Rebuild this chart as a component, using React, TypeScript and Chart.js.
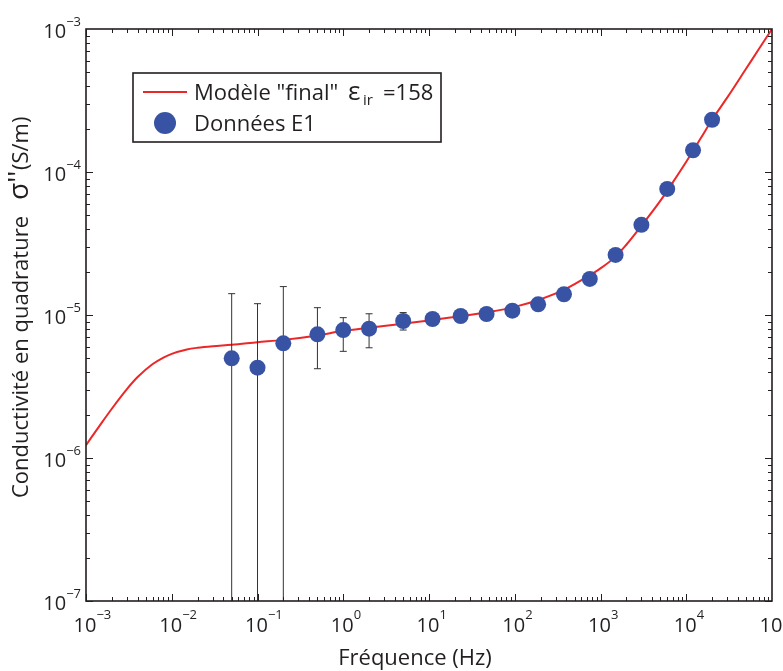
import React, { useEffect, useRef } from "react";
import { Chart, registerables } from "chart.js";

Chart.register(...registerables);

// ---- Data ----
const modelFreq = [
  0.001, 0.0015, 0.002, 0.003, 0.004, 0.006, 0.008, 0.01, 0.015, 0.02, 0.03, 0.05,
  0.1, 0.2, 0.5, 1, 2, 5, 10, 20, 50, 100, 200, 400, 700, 1000, 1500, 2000, 3000,
  5000, 7000, 10000, 15000, 20000, 30000, 50000, 70000, 100000,
];
const modelSigma = [
  1.23e-6, 1.74e-6, 2.21e-6, 3.03e-6, 3.68e-6, 4.54e-6, 5.04e-6, 5.35e-6, 5.74e-6, 5.9e-6,
  6.05e-6, 6.19e-6, 6.45e-6, 6.7e-6, 7.2e-6, 7.75e-6, 8.15e-6, 8.7e-6, 9.15e-6, 9.7e-6,
  1.05e-5, 1.14e-5, 1.29e-5, 1.53e-5, 1.85e-5, 2.12e-5, 2.56e-5, 3.1e-5, 4.2e-5,
  6.3e-5, 8.5e-5, 1.18e-4, 1.75e-4, 2.32e-4, 3.31e-4, 5.29e-4, 7.21e-4, 1.0e-3,
];
const dataFreq = [
  0.05, 0.1, 0.2, 0.5, 1, 2, 5, 11, 23.4, 46.9, 93.8, 187.5, 375, 750, 1500, 3000,
  6000, 12000, 20000,
];
const dataSigma = [
  4.98e-6, 4.28e-6, 6.34e-6, 7.33e-6, 7.85e-6, 8.02e-6, 9.08e-6, 9.38e-6, 9.84e-6,
  1.016e-5, 1.072e-5, 1.188e-5, 1.396e-5, 1.787e-5, 2.63e-5, 4.27e-5, 7.62e-5,
  1.42e-4, 2.32e-4,
];
// null in errLow = lower bound below the axis; null in both = no bar
const errHigh: (number | null)[] = [
  1.41e-5, 1.2e-5, 1.58e-5, 1.125e-5, 9.58e-6, 1.02e-5, 1.04e-5, null, null, null,
  null, null, null, null, null, null, null, null, null,
];
const errLow: (number | null)[] = [
  null, null, null, 4.21e-6, 5.57e-6, 5.9e-6, 7.85e-6, null, null, null, null, null,
  null, null, null, null, null, null, null,
];
const xTickExps = [-3, -2, -1, 0, 1, 2, 3, 4, 5];
const yTickExps = [-7, -6, -5, -4, -3];
const legendModel = 'Modèle "final"';
const legendEps = "ε";
const legendEpsSub = "ir";
const legendEpsVal = "=158";
const legendData = "Données E1";
const xTitle = "Fréquence (Hz)";
const yTitleA = "Conductivité en quadrature";
const yTitleSym = "σ''";
const yTitleUnit = "(S/m)";

const RED = "#ec2727";
const BLUE = "#3953a4";
const INK = "#231f20";
const FONT = "'Open Sans', 'DejaVu Sans', sans-serif";

function expStr(e: number) {
  return e < 0 ? "\u2212" + Math.abs(e) : String(e);
}

const decorPlugin = {
  id: "decor",
  beforeDatasetDraw(chart: any, args: any) {
    if (args.index !== 1) return;
    const { ctx, chartArea, scales } = chart;
    ctx.save();
    ctx.beginPath();
    ctx.rect(chartArea.left, chartArea.top, chartArea.width, chartArea.height);
    ctx.clip();
    ctx.strokeStyle = "#333";
    ctx.lineWidth = 1;
    const c = 3.5;
    dataFreq.forEach((f, i) => {
      const hi = errHigh[i];
      const lo = errLow[i];
      if (hi == null && lo == null) return;
      const x = scales.x.getPixelForValue(f);
      const yTop = hi != null ? scales.y.getPixelForValue(hi) : scales.y.getPixelForValue(dataSigma[i]);
      const yBot = lo != null ? scales.y.getPixelForValue(lo) : chartArea.bottom + 2;
      ctx.beginPath();
      ctx.moveTo(x, yTop);
      ctx.lineTo(x, yBot);
      if (hi != null) {
        ctx.moveTo(x - c, yTop);
        ctx.lineTo(x + c, yTop);
      }
      if (lo != null) {
        ctx.moveTo(x - c, yBot);
        ctx.lineTo(x + c, yBot);
      }
      ctx.stroke();
    });
    ctx.restore();
  },
  afterDraw(chart: any) {
    const { ctx, chartArea, scales } = chart;
    const { left, right, top, bottom } = chartArea;
    const xs = scales.x;
    const ys = scales.y;
    ctx.save();

    // inward tick marks on all four sides
    ctx.strokeStyle = INK;
    ctx.lineWidth = 1;
    ctx.beginPath();
    for (let e = -3; e < 5; e++) {
      for (let m = 1; m <= 9; m++) {
        const v = m * Math.pow(10, e);
        const px = Math.round(xs.getPixelForValue(v)) + 0.5;
        const len = m === 1 ? 7 : 4;
        ctx.moveTo(px, bottom);
        ctx.lineTo(px, bottom - len);
        ctx.moveTo(px, top);
        ctx.lineTo(px, top + len);
      }
    }
    for (let e = -7; e < -3; e++) {
      for (let m = 1; m <= 9; m++) {
        const v = m * Math.pow(10, e);
        const py = Math.round(ys.getPixelForValue(v)) + 0.5;
        const len = m === 1 ? 7 : 4;
        ctx.moveTo(left, py);
        ctx.lineTo(left + len, py);
        ctx.moveTo(right, py);
        ctx.lineTo(right - len, py);
      }
    }
    ctx.stroke();

    // box
    ctx.lineWidth = 1.6;
    ctx.strokeRect(left, top, right - left, bottom - top);

    // tick labels
    ctx.fillStyle = INK;
    ctx.textBaseline = "alphabetic";
    xTickExps.forEach((e) => {
      const px = xs.getPixelForValue(Math.pow(10, e));
      ctx.font = `20px ${FONT}`;
      const w = ctx.measureText("10").width;
      ctx.textAlign = "left";
      ctx.fillText("10", px - w / 2 - 1, 632);
      ctx.font = `13px ${FONT}`;
      ctx.fillText(expStr(e), px + w / 2 - 1, 619);
    });
    yTickExps.forEach((e) => {
      const py = ys.getPixelForValue(Math.pow(10, e));
      ctx.font = `13px ${FONT}`;
      const s = expStr(e);
      const we = ctx.measureText(s).width;
      ctx.textAlign = "left";
      ctx.fillText(s, 81 - we, py - 3);
      ctx.font = `20px ${FONT}`;
      ctx.textAlign = "right";
      ctx.fillText("10", 81 - we, py + 9);
    });

    // axis titles
    ctx.font = `22px ${FONT}`;
    ctx.textAlign = "center";
    ctx.fillText(xTitle, 415, 665);
    ctx.save();
    ctx.translate(28, 0);
    ctx.rotate(-Math.PI / 2);
    ctx.textAlign = "left";
    ctx.font = `22px ${FONT}`;
    ctx.fillText(yTitleA, -498, 0);
    ctx.fillText(yTitleUnit, -170, 0);
    ctx.font = `28px ${FONT}`;
    ctx.fillText(yTitleSym, -200, 0);
    ctx.restore();

    // legend
    ctx.fillStyle = "#ffffff";
    ctx.fillRect(133, 73, 308, 69);
    ctx.strokeStyle = INK;
    ctx.lineWidth = 1.6;
    ctx.strokeRect(133, 73, 308, 69);
    ctx.strokeStyle = RED;
    ctx.lineWidth = 2;
    ctx.beginPath();
    ctx.moveTo(143, 92);
    ctx.lineTo(187, 92);
    ctx.stroke();
    ctx.fillStyle = BLUE;
    ctx.beginPath();
    ctx.arc(165, 123, 11, 0, Math.PI * 2);
    ctx.fill();
    ctx.fillStyle = INK;
    ctx.textAlign = "left";
    ctx.font = `22px ${FONT}`;
    ctx.fillText(legendModel, 194, 100);
    ctx.fillText(legendData, 194, 131);
    ctx.font = `26px ${FONT}`;
    ctx.fillText(legendEps, 348, 100);
    ctx.font = `15px ${FONT}`;
    ctx.fillText(legendEpsSub, 363, 105);
    ctx.font = `22px ${FONT}`;
    ctx.fillText(legendEpsVal, 383, 100);

    ctx.restore();
  },
};

export default function App() {
  const ref = useRef<HTMLCanvasElement>(null);
  useEffect(() => {
    document.body.style.margin = "0";
    const chart = new Chart(ref.current as HTMLCanvasElement, {
      type: "scatter",
      data: {
        datasets: [
          {
            type: "line",
            label: "Modèle final",
            data: modelFreq.map((f, i) => ({ x: f, y: modelSigma[i] })),
            borderColor: RED,
            borderWidth: 2,
            pointRadius: 0,
            cubicInterpolationMode: "monotone",
            fill: false,
            order: 2,
          } as any,
          {
            type: "scatter",
            label: legendData,
            data: dataFreq.map((f, i) => ({ x: f, y: dataSigma[i] })),
            backgroundColor: BLUE,
            borderColor: BLUE,
            borderWidth: 0,
            pointRadius: 8,
            order: 1,
          } as any,
        ],
      },
      options: {
        responsive: false,
        animation: false,
        layout: { padding: { top: 29, right: 11, left: 0, bottom: 0 } },
        plugins: { legend: { display: false }, tooltip: { enabled: false } },
        scales: {
          x: {
            type: "logarithmic",
            min: 1e-3,
            max: 1e5,
            ticks: { display: false },
            grid: { display: false },
            border: { display: false },
            afterFit: (s: any) => {
              s.height = 70;
              s.paddingLeft = 0;
              s.paddingRight = 0;
            },
          },
          y: {
            type: "logarithmic",
            min: 1e-7,
            max: 1e-3,
            ticks: { display: false },
            grid: { display: false },
            border: { display: false },
            afterFit: (s: any) => {
              s.width = 86;
              s.paddingTop = 0;
              s.paddingBottom = 0;
            },
          },
        },
      } as any,
      plugins: [decorPlugin],
    });
    return () => chart.destroy();
  }, []);
  return (
    <canvas
      ref={ref}
      width={783}
      height={671}
      style={{ display: "block", width: 783, height: 671 }}
    />
  );
}
